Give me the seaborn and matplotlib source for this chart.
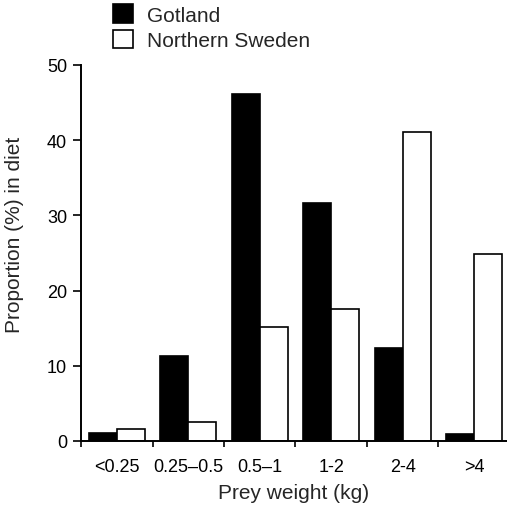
import matplotlib
matplotlib.use('Agg')
import matplotlib.pyplot as plt
import seaborn as sns
import pandas as pd

# 먹이 무게 구간별 식단 비율 (%)
weight_classes = ['<0.25', '0.25\u20130.5', '0.5\u20131', '1-2', '2-4', '>4']
gotland = [1.0, 11.3, 46.1, 31.6, 12.4, 0.9]
northern_sweden = [1.6, 2.5, 15.1, 17.5, 41.1, 24.9]
regions = ['Gotland', 'Northern Sweden']

df = pd.DataFrame({
    'weight': weight_classes * 2,
    'region': [regions[0]] * 6 + [regions[1]] * 6,
    'value': gotland + northern_sweden,
})

sns.set_style('ticks')
plt.rcParams['font.family'] = ['Liberation Sans', 'DejaVu Sans']

fig = plt.figure(figsize=(5.07, 5.06), dpi=100)
ax = fig.add_axes([0.16, 0.1265, 0.84, 0.7431])

sns.barplot(data=df, x='weight', y='value', hue='region', order=weight_classes,
            hue_order=regions, palette=['black', 'white'], edgecolor='black',
            linewidth=1.2, width=0.78, saturation=1, ax=ax)

handles, labels = ax.get_legend_handles_labels()
ax.get_legend().remove()

ax.set_xlim(-0.5, 5.46)
ax.set_ylim(0, 50)
ax.set_yticks([0, 10, 20, 30, 40, 50])
ax.set_xticks(range(6))
ax.set_xticks([i - 0.5 for i in range(6)], minor=True)
ax.tick_params(axis='x', which='major', length=0, labelsize=13, pad=12, colors='black')
ax.tick_params(axis='x', which='minor', length=4, width=1.2, color='black')
ax.tick_params(axis='y', length=6, width=1.2, labelsize=13, pad=4, colors='black')
ax.set_xlabel('Prey weight (kg)', fontsize=15, labelpad=6)
ax.set_ylabel('Proportion (%) in diet', fontsize=15)
ax.yaxis.set_label_coords(-0.135, 0.55)

for side in ['top', 'right']:
    ax.spines[side].set_visible(False)
for side in ['left', 'bottom']:
    ax.spines[side].set_linewidth(1.4)
    ax.spines[side].set_color('black')

fig.legend(handles, labels, loc='upper left', bbox_to_anchor=(0.222, 0.99),
           frameon=False, fontsize=15, handlelength=1.0, handleheight=1.0,
           handletextpad=0.65, labelspacing=0.25, borderpad=0, borderaxespad=0)

fig.savefig('out.png', dpi=100)
